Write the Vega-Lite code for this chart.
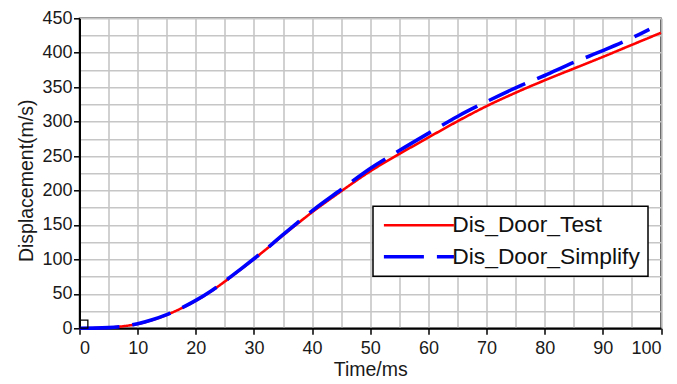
{
  "$schema": "https://vega.github.io/schema/vega-lite/v6.json",
  "width": 581.5,
  "height": 310,
  "autosize": {"type": "none"},
  "padding": {"left": 79.5, "top": 18.3, "right": 16, "bottom": 55.7},
  "background": "#ffffff",
  "config": {
    "font": "Liberation Sans",
    "view": {"stroke": "#3c3c3c", "strokeWidth": 1.5},
    "axis": {
      "labelFont": "Liberation Sans",
      "titleFont": "Liberation Sans",
      "labelFontSize": 18,
      "titleFontSize": 19.5,
      "titleFontWeight": "normal",
      "labelColor": "#1a1a1a",
      "titleColor": "#1a1a1a",
      "domainColor": "#000000",
      "domainWidth": 2,
      "tickColor": "#000000",
      "tickWidth": 1.5,
      "gridColor": "#c6c6c6",
      "gridWidth": 1.6
    }
  },
  "data": {
    "values": [
      {"t": 0, "d": 0, "s": "Dis_Door_Test"},
      {"t": 2.5, "d": 0.2, "s": "Dis_Door_Test"},
      {"t": 5, "d": 1, "s": "Dis_Door_Test"},
      {"t": 7.5, "d": 3, "s": "Dis_Door_Test"},
      {"t": 10, "d": 6.3, "s": "Dis_Door_Test"},
      {"t": 12.5, "d": 12, "s": "Dis_Door_Test"},
      {"t": 15, "d": 19.5, "s": "Dis_Door_Test"},
      {"t": 17.5, "d": 29, "s": "Dis_Door_Test"},
      {"t": 20, "d": 40, "s": "Dis_Door_Test"},
      {"t": 22.5, "d": 53, "s": "Dis_Door_Test"},
      {"t": 25, "d": 68, "s": "Dis_Door_Test"},
      {"t": 27.5, "d": 84, "s": "Dis_Door_Test"},
      {"t": 30, "d": 100.5, "s": "Dis_Door_Test"},
      {"t": 32.5, "d": 117.5, "s": "Dis_Door_Test"},
      {"t": 35, "d": 135, "s": "Dis_Door_Test"},
      {"t": 37.5, "d": 152, "s": "Dis_Door_Test"},
      {"t": 40, "d": 168.5, "s": "Dis_Door_Test"},
      {"t": 45, "d": 199, "s": "Dis_Door_Test"},
      {"t": 50, "d": 228, "s": "Dis_Door_Test"},
      {"t": 55, "d": 253, "s": "Dis_Door_Test"},
      {"t": 60, "d": 277, "s": "Dis_Door_Test"},
      {"t": 65, "d": 300.5, "s": "Dis_Door_Test"},
      {"t": 70, "d": 322.5, "s": "Dis_Door_Test"},
      {"t": 75, "d": 342, "s": "Dis_Door_Test"},
      {"t": 80, "d": 360, "s": "Dis_Door_Test"},
      {"t": 85, "d": 377, "s": "Dis_Door_Test"},
      {"t": 90, "d": 394, "s": "Dis_Door_Test"},
      {"t": 95, "d": 411.5, "s": "Dis_Door_Test"},
      {"t": 100, "d": 429, "s": "Dis_Door_Test"},
      {"t": 0, "d": 0, "s": "Dis_Door_Simplify"},
      {"t": 2.5, "d": 0.2, "s": "Dis_Door_Simplify"},
      {"t": 5, "d": 1, "s": "Dis_Door_Simplify"},
      {"t": 7.5, "d": 3, "s": "Dis_Door_Simplify"},
      {"t": 10, "d": 6.5, "s": "Dis_Door_Simplify"},
      {"t": 12.5, "d": 12.3, "s": "Dis_Door_Simplify"},
      {"t": 15, "d": 19.8, "s": "Dis_Door_Simplify"},
      {"t": 17.5, "d": 29.3, "s": "Dis_Door_Simplify"},
      {"t": 20, "d": 40.5, "s": "Dis_Door_Simplify"},
      {"t": 22.5, "d": 53.5, "s": "Dis_Door_Simplify"},
      {"t": 25, "d": 68.5, "s": "Dis_Door_Simplify"},
      {"t": 27.5, "d": 84.5, "s": "Dis_Door_Simplify"},
      {"t": 30, "d": 101, "s": "Dis_Door_Simplify"},
      {"t": 32.5, "d": 118, "s": "Dis_Door_Simplify"},
      {"t": 35, "d": 136, "s": "Dis_Door_Simplify"},
      {"t": 37.5, "d": 153.5, "s": "Dis_Door_Simplify"},
      {"t": 40, "d": 170.5, "s": "Dis_Door_Simplify"},
      {"t": 45, "d": 201.5, "s": "Dis_Door_Simplify"},
      {"t": 50, "d": 232, "s": "Dis_Door_Simplify"},
      {"t": 55, "d": 258, "s": "Dis_Door_Simplify"},
      {"t": 60, "d": 283, "s": "Dis_Door_Simplify"},
      {"t": 65, "d": 307.5, "s": "Dis_Door_Simplify"},
      {"t": 70, "d": 329, "s": "Dis_Door_Simplify"},
      {"t": 75, "d": 349, "s": "Dis_Door_Simplify"},
      {"t": 80, "d": 367, "s": "Dis_Door_Simplify"},
      {"t": 85, "d": 386, "s": "Dis_Door_Simplify"},
      {"t": 90, "d": 403, "s": "Dis_Door_Simplify"},
      {"t": 95, "d": 421.5, "s": "Dis_Door_Simplify"},
      {"t": 98, "d": 434, "s": "Dis_Door_Simplify"}
    ]
  },
  "layer": [
    {
      "mark": {"type": "line", "strokeOpacity": 0},
      "encoding": {
        "x": {
          "field": "t", "type": "quantitative",
          "scale": {"domain": [0, 100], "nice": false, "zero": false},
          "axis": {"orient": "top", "values": [0,5,10,15,20,25,30,35,40,45,50,55,60,65,70,75,80,85,90,95,100], "grid": true, "domain": false, "ticks": false, "labels": false, "title": null}
        },
        "y": {
          "field": "d", "type": "quantitative",
          "scale": {"domain": [0, 450], "nice": false},
          "axis": {"orient": "right", "values": [0,25,50,75,100,125,150,175,200,225,250,275,300,325,350,375,400,425,450], "grid": true, "domain": false, "ticks": false, "labels": false, "title": null}
        },
        "detail": {"field": "s"}
      }
    },
    {
      "mark": {"type": "line", "interpolate": "monotone"},
      "encoding": {
        "x": {
          "field": "t", "type": "quantitative",
          "axis": {"orient": "bottom", "values": [0,10,20,30,40,50,60,70,80,90,100], "grid": false, "title": "Time/ms", "tickSize": 6, "labelPadding": 5.5, "titlePadding": 3}
        },
        "y": {
          "field": "d", "type": "quantitative",
          "axis": {"orient": "left", "values": [0,50,100,150,200,250,300,350,400,450], "grid": false, "title": "Displacement(m/s)", "tickSize": 6, "labelPadding": 1.5, "titlePadding": 5.5, "titleY": 162}
        },
        "color": {
          "field": "s", "type": "nominal",
          "scale": {"domain": ["Dis_Door_Test", "Dis_Door_Simplify"], "range": ["#ff0000", "#0000ff"]},
          "legend": {
            "orient": "none", "legendX": 293.5, "legendY": 188,
            "title": null,
            "symbolType": "M-7,0H7", "symbolSize": 100, "symbolStrokeWidth": 3,
            "symbolOffset": 27,
            "labelFont": "Liberation Sans", "labelFontSize": 22.8, "labelColor": "#111111",
            "labelOffset": 22, "labelLimit": 400, "padding": 7.5, "rowPadding": 7.5,
            "strokeColor": "#000000", "fillColor": "#ffffff",
            "encode": {
              "legend": {"update": {"strokeWidth": {"value": 1.5}}},
              "symbols": {"update": {"strokeDash": {"signal": "datum.value === 'Dis_Door_Simplify' ? [17, 11] : [1, 0]"}}}
            }
          }
        },
        "strokeDash": {
          "field": "s", "type": "nominal",
          "scale": {"domain": ["Dis_Door_Test", "Dis_Door_Simplify"], "range": [[1, 0], [40, 13]]},
          "legend": null
        },
        "strokeWidth": {
          "field": "s", "type": "nominal",
          "scale": {"domain": ["Dis_Door_Test", "Dis_Door_Simplify"], "range": [2.6, 3.6]},
          "legend": null
        }
      }
    },
    {
      "data": {"values": [{"t": 0.75, "d": 6.2}]},
      "mark": {"type": "point", "shape": "square", "filled": false, "size": 64, "stroke": "#000000", "strokeWidth": 1.3, "opacity": 1},
      "encoding": {
        "x": {"field": "t", "type": "quantitative", "axis": null},
        "y": {"field": "d", "type": "quantitative", "axis": null}
      }
    }
  ],
  "resolve": {"axis": {"x": "independent", "y": "independent"}}
}
